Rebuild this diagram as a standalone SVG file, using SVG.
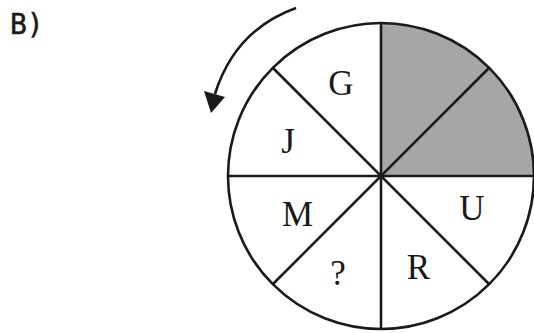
<svg xmlns="http://www.w3.org/2000/svg" width="534" height="333" viewBox="0 0 534 333">
<style>
.ln{stroke:#1a1a1a;stroke-width:2.6;fill:none}
.lbl{font-family:"Liberation Serif","Times New Roman",serif;font-size:35px;fill:#1a1a1a;text-anchor:middle}
.hd{font-family:"DejaVu Sans Mono",monospace;font-size:28px;fill:#1a1a1a;stroke:#1a1a1a;stroke-width:0.5}
</style>
<rect width="534" height="333" fill="#fff"/>
<text x="10" y="33.5" class="hd">B)</text>
<g id="wheel">
<path d="M381,176 L381,23 A153,153 0 0 1 534,176 Z" fill="#a6a6a6"/>
<circle cx="381" cy="176" r="153" class="ln" stroke-width="3"/>
</g>
<g id="connectors">
<line x1="381" y1="23" x2="381" y2="329" class="ln"/>
<line x1="228" y1="176" x2="534" y2="176" class="ln"/>
<line x1="273" y1="68" x2="489" y2="284" class="ln"/>
<line x1="273" y1="284" x2="489" y2="68" class="ln"/>
<path d="M296,8 Q235,30 215,94" class="ln" stroke-width="2.8"/>
<polygon points="211,113 204,91 225,97" fill="#1a1a1a"/>
</g>
<g id="G"><text x="341" y="95" class="lbl">G</text></g>
<g id="J"><text x="288" y="153" class="lbl">J</text></g>
<g id="M"><text x="297.5" y="226" class="lbl">M</text></g>
<g id="Q"><text x="338" y="285" class="lbl">?</text></g>
<g id="R"><text x="418.5" y="279" class="lbl">R</text></g>
<g id="U"><text x="472" y="220" class="lbl">U</text></g>
</svg>
